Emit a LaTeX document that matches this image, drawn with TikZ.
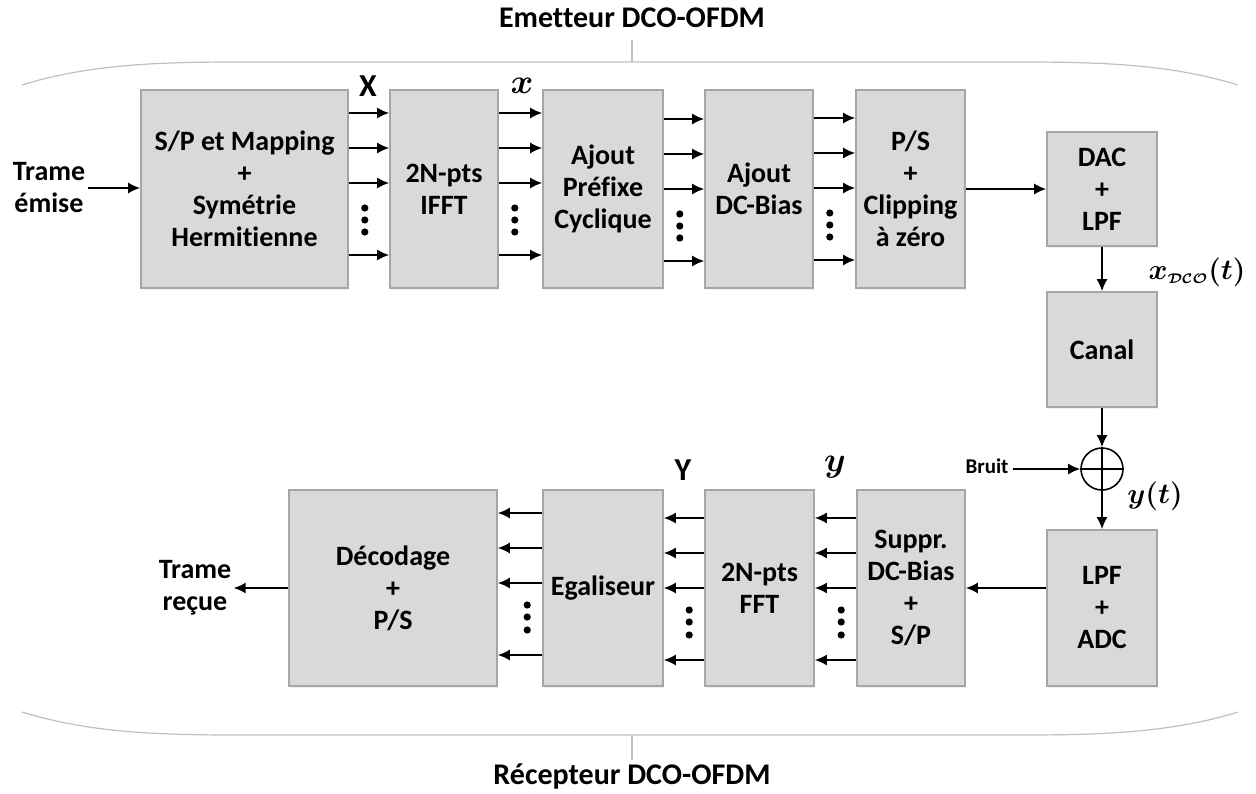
\documentclass[tikz,border=0pt]{standalone}
\usepackage{fontspec}
\setmainfont{Carlito}[Ligatures=NoCommon]
\usetikzlibrary{arrows.meta,calc,positioning,shadows}

\begin{document}
\begin{tikzpicture}[x=0.5pt,y=-0.5pt,
  every node/.style={font=\fontsize{14}{16}\selectfont\bfseries},
  block/.style={draw=black!35,fill=black!15,line width=0.8pt,align=center,inner sep=0pt,
    drop shadow={opacity=0.12,shadow xshift=0.5pt,shadow yshift=-1pt}},
  fl/.style={-{Latex[length=6pt,width=5.5pt]},line width=0.9pt},
  frame/.style={draw=black!25,line width=0.6pt},
  lab/.style={font=\fontsize{14}{17}\selectfont\boldmath}]

        \useasboundingbox (0,0) rectangle (1256,793);

        % emetteur
        \node[block,minimum width=103.5pt,minimum height=99pt] (map) at (244.5,189) {S/P et Mapping\\+\\Symétrie\\Hermitienne};
        \node[block,minimum width=54pt,minimum height=99pt] (ifft) at (444,189) {2N-pts\\IFFT};
        \node[block,minimum width=60pt,minimum height=99pt] (cp) at (603,189) {Ajout\\Préfixe\\Cyclique};
        \node[block,minimum width=54pt,minimum height=99pt] (dc) at (759,189) {Ajout\\DC-Bias};
        \node[block,minimum width=54.5pt,minimum height=99pt] (clip) at (910.5,189) {P/S\\+\\Clipping\\à zéro};
        \node[block,minimum width=55pt,minimum height=57pt] (dac) at (1102,189) {DAC\\+\\LPF};

        % canal
        \node[block,minimum width=55pt,minimum height=57.5pt] (canal) at (1102,349.5) {Canal};
        \node[circle,draw,line width=0.8pt,minimum size=21pt,inner sep=0pt] (sum) at (1102,469) {};
        \draw[line width=0.8pt] (sum.north) -- (sum.south) (sum.west) -- (sum.east);

        % recepteur
        \node[block,minimum width=55pt,minimum height=78pt] (adc) at (1102,608) {LPF\\+\\ADC};
        \node[block,minimum width=54pt,minimum height=98pt] (supp) at (911,588) {Suppr.\\DC-Bias\\+\\S/P};
        \node[block,minimum width=54.5pt,minimum height=98pt] (fft) at (759.5,588) {2N-pts\\FFT};
        \node[block,minimum width=60pt,minimum height=98pt] (eg) at (603,588) {Egaliseur};
        \node[block,minimum width=104pt,minimum height=98pt] (dec) at (393,588) {Décodage\\+\\P/S};

        \node[align=center,inner sep=1pt] (tx) at (49,188) {Trame\\émise};
        \node[align=center,inner sep=1pt] (rx) at (195,588) {Trame\\reçue};
        \node[font=\fontsize{10.5}{12}\selectfont\bfseries,inner sep=2pt] (bruit) at (987,466) {Bruit};

        \node[font=\fontsize{16}{18}\selectfont\bfseries] (lX) at (368,86) {X};
        \node[lab,font=\fontsize{17}{19}\selectfont\boldmath] (lx) at (522,86) {$x$};
        \node[font=\fontsize{16}{18}\selectfont\bfseries] (lY) at (683,470) {Y};
        \node[lab,font=\fontsize{17}{19}\selectfont\boldmath] (ly) at (835,467) {$y$};
        \node[lab] (lxdco) at (1197,272) {$x_{\scriptscriptstyle\mathcal{DCO}}(t)$};
        \node[lab] (lyt) at (1155,496) {$y(t)$};

        % parallel lines
        \foreach \a/\b/\d in {map/ifft/0,ifft/cp/0,cp/dc/6,dc/clip/5}{
          \foreach \y in {113,148,183,255}
            \draw[fl] (\a.east |- 0,\y+\d) -- (\b.west |- 0,\y+\d);
          \foreach \y in {208,220,232}
            \fill ($(\a.east |- 0,\y+\d)+(16,0)$) circle (1.8pt);
        }
        \foreach \a/\b/\d in {supp/fft/0,fft/eg/0,eg/dec/5}{
          \foreach \y in {518,553,588,660}
            \draw[fl] (\a.west |- 0,\y-\d) -- (\b.east |- 0,\y-\d);
          \foreach \y in {610,622,635}
            \fill ($(\a.west |- 0,\y-\d)+(-15,0)$) circle (1.8pt);
        }

        \draw[fl] (tx.east) -- (tx.east -| map.west);
        \draw[fl] (clip.east) -- (dac.west);
        \draw[fl] (dac.south) -- (canal.north);
        \draw[fl] (canal.south) -- (sum.north);
        \draw[fl] (bruit.east |- sum) -- (sum.west);
        \draw[fl] (sum.south) -- (adc.north);
        \draw[fl] (adc.west |- supp) -- (supp.east);
        \draw[fl] (dec.west) -- (dec.west -| rx.east);

        % cadres
        \node[font=\fontsize{15}{17}\selectfont\bfseries] (emt) at (632,18) {Emetteur DCO-OFDM};
        \node[font=\fontsize{15}{17}\selectfont\bfseries] (rec) at (632,776) {Récepteur DCO-OFDM};
        \draw[frame] (22,85) .. controls (90,64) and (160,62) .. (240,62) -- (1020,62) .. controls (1100,62) and (1170,64) .. (1238,85);
        \draw[frame] (632,62) -- (632,40);
        \draw[frame] (22,712) .. controls (90,733) and (160,735) .. (240,735) -- (1020,735) .. controls (1100,735) and (1170,733) .. (1238,712);
        \draw[frame] (632,735) -- (632,760);
      \end{tikzpicture}
\end{document}
